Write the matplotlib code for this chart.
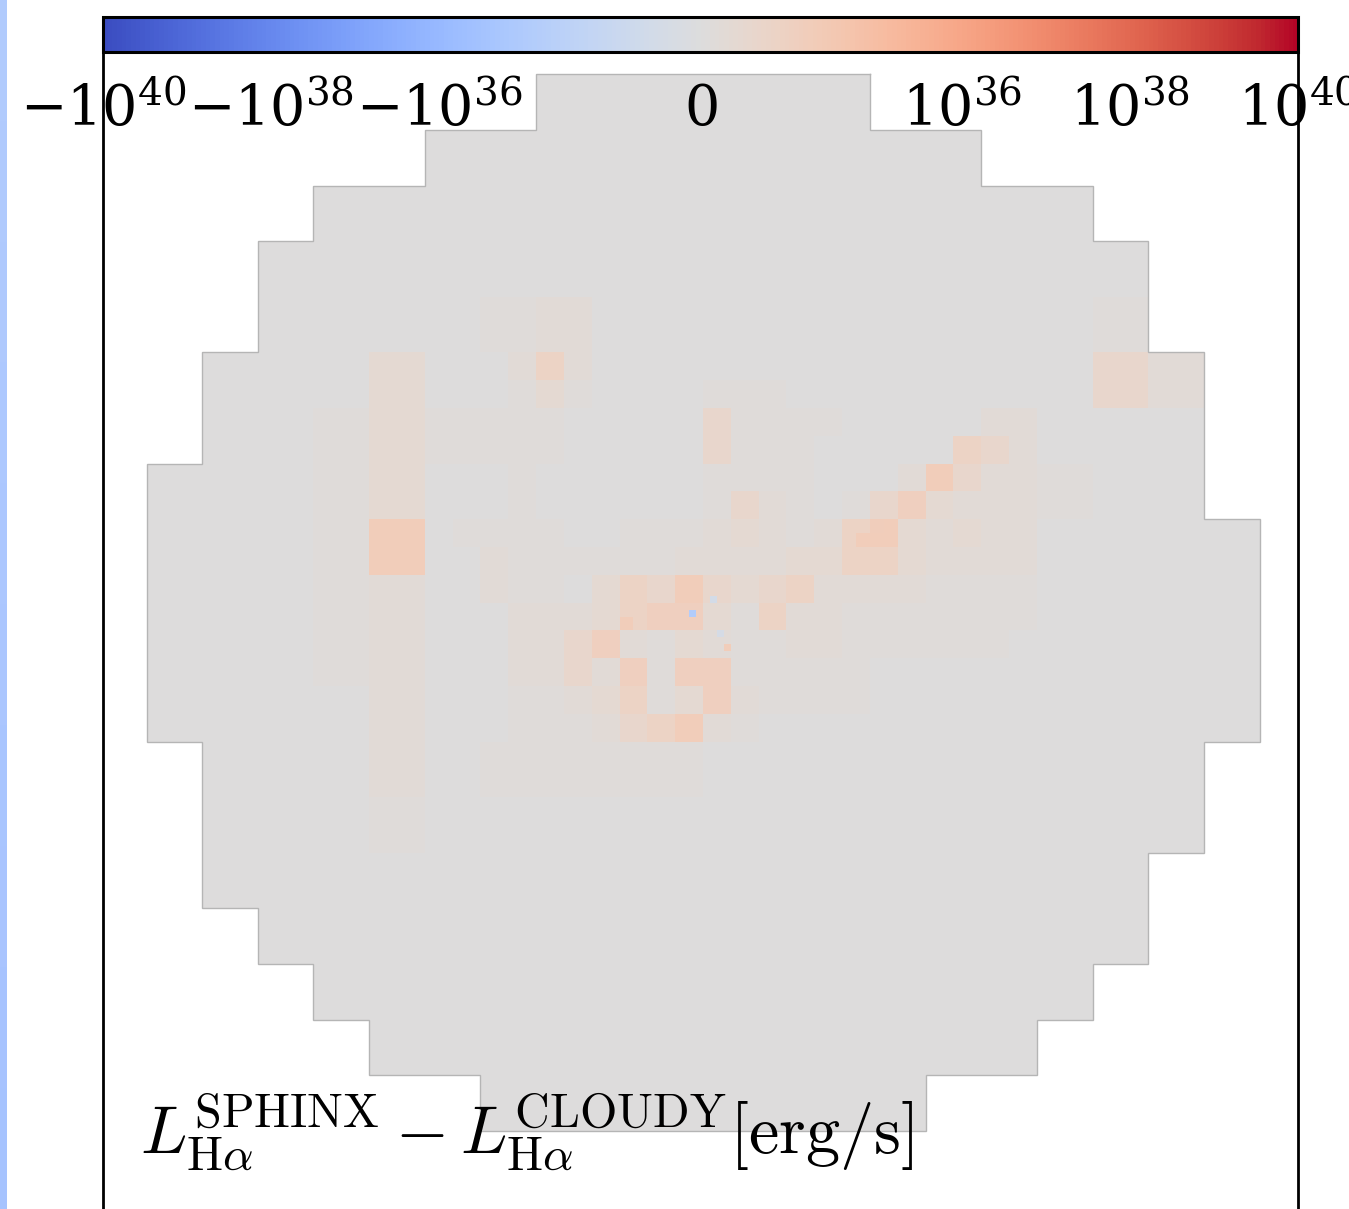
import numpy as np
import matplotlib
matplotlib.use("Agg")
import matplotlib.pyplot as plt
from matplotlib.colors import SymLogNorm

# ---------------- data ----------------
# level code -> L_SPHINX - L_CLOUDY [erg/s]
level_values = [0.0, 1.2e33, 2.4e33, 3.8e33, 5.5e33, 8.0e33, 1.1e34, 1.6e34, 2.4e34, 3.5e34]

# coarse cells: first column inside the sphere for each of the 19 rows,
# followed by one level code per cell
coarse_start = [7, 5, 3, 2, 2, 1, 1, 0, 0, 0, 0, 0, 1, 1, 1, 2, 3, 4, 6]
coarse_vals = [
    "000000",
    "0000000000",
    "00000000000000",
    "0000000000000000",
    "0000120000000001",
    "000301300110000042",
    "001300000000000000",
    "0001300000000000000",
    "00017000000000000000",
    "00012000000000000000",
    "00012000000000000000",
    "00002000000000000000",
    "000200000000000000",
    "000100000000000000",
    "00000000000000000",
    "0000000000000000",
    "00000000000000",
    "000000000000",
    "00000000",
]

# refined half-size cells covering cols 5-19, rows 5-14
half_col0, half_row0 = 5, 5
half_rows = [
    "0002520000000000000000004422",
    "0001310000111000000000004422",
    "1111100000411110000022000000",
    "1111100000411100000542000000",
    "0001000000111100027422110000",
    "0001000000142101463222110000",
    "0111100111232125732322000000",
    "0021111112222335532222000000",
    "0021103547434522221111000000",
    "0002223566315221111111000000",
    "0002246213211221111110000000",
    "0002242616611111000000000000",
    "0001123513621111000000000000",
    "0001112457210000000000000000",
    "0011111111000000000000000000",
    "0011111111000000000000000000",
    "0000000000000000000000000000",
    "0000000000000000000000000000",
]

# finest cells: (col0, row0, size, value [erg/s])
small_cells = [
    (9.750, 9.625, 0.125, -8.0e34),
    (10.125, 9.375, 0.125, -5.0e33),
    (10.250, 10.000, 0.125, -4.0e33),
    (8.500, 9.750, 0.250, 1.6e34),
    (10.375, 10.250, 0.125, 1.6e34),
    (12.750, 8.250, 0.250, 1.6e34),
    (13.000, 8.000, 0.250, 1.4e34),
]

# neighbouring panel sliver at the left edge (top -> bottom)
strip_values = [-2.0e35, -2.3e35, -2.7e35, -3.1e35, -3.5e35, -4.0e35, -4.5e35, -5.0e35, -5.5e35, -6.0e35]

cbar_ticks = [-1e40, -1e38, -1e36, 0, 1e36, 1e38, 1e40]
cbar_ticklabels = [r"$-10^{40}$", r"$-10^{38}$", r"$-10^{36}$", r"$0$",
                   r"$10^{36}$", r"$10^{38}$", r"$10^{40}$"]
label_text = (r"$L_{\mathrm{H}\alpha}^{\mathrm{SPHINX}}-"
              r"L_{\mathrm{H}\alpha}^{\mathrm{CLOUDY}}[\mathrm{erg/s}]$")

# ---------------- figure ----------------
W, H = 1349, 1209
fig = plt.figure(figsize=(W / 100, H / 100), dpi=100)
cmap = plt.get_cmap("coolwarm")
norm = SymLogNorm(linthresh=1e34, linscale=1.0, vmin=-1e40, vmax=1e40, base=10)

ax = fig.add_axes([103 / W, 1 - 1247 / H, 1195 / W, 1195 / H])

# coarse grid
nrow, ncol = len(coarse_vals), 20
coarse = np.full((nrow, ncol), np.nan)
for r, (s, vals) in enumerate(zip(coarse_start, coarse_vals)):
    for k, ch in enumerate(vals):
        coarse[r, s + k] = level_values[int(ch)]
ax.pcolormesh(np.arange(ncol + 1), np.arange(nrow + 1), np.ma.masked_invalid(coarse),
              cmap=cmap, norm=norm, shading="flat", antialiased=False, edgecolors="none")

# half-size grid
half = np.array([[level_values[int(ch)] for ch in row] for row in half_rows])
hx = half_col0 + 0.5 * np.arange(half.shape[1] + 1)
hy = half_row0 + 0.5 * np.arange(half.shape[0] + 1)
ax.pcolormesh(hx, hy, half, cmap=cmap, norm=norm, shading="flat",
              antialiased=False, edgecolors="none")

# finest cells
for c0, r0, s, v in small_cells:
    ax.pcolormesh([c0, c0 + s], [r0, r0 + s], np.array([[v]]), cmap=cmap, norm=norm,
                  shading="flat", antialiased=False, edgecolors="none")

# sphere outline (from the coarse mask)
starts = list(coarse_start)
ends = [s + len(v) for s, v in zip(coarse_start, coarse_vals)]
pts = []
for r in range(nrow):
    pts += [(ends[r], r), (ends[r], r + 1)]
for r in reversed(range(nrow)):
    pts += [(starts[r], r + 1), (starts[r], r)]
pts.append(pts[0])
px, py = zip(*pts)
ax.plot(px, py, color="#b5b5b5", lw=1.0, solid_joinstyle="miter")

ax.set_xlim((103 - 146.5) / 55.65, (1298 - 146.5) / 55.65)
ax.set_ylim((1247 - 74.4) / 55.6, (52 - 74.4) / 55.6)
ax.set_xticks([]); ax.set_yticks([])
for side in ("left", "right"):
    ax.spines[side].set_linewidth(2.0)
    ax.spines[side].set_color("black")
ax.spines["top"].set_visible(False)
ax.spines["bottom"].set_visible(False)

fig.text(140 / W, 1 - 1153 / H, label_text, fontsize=49.3, math_fontfamily="cm",
         ha="left", va="baseline")

# colorbar
cax = fig.add_axes([103 / W, 1 - 52 / H, 1195 / W, 35 / H])
sm = plt.cm.ScalarMappable(norm=norm, cmap=cmap)
cb = fig.colorbar(sm, cax=cax, orientation="horizontal", ticks=cbar_ticks)
cb.outline.set_linewidth(2.2)
cax.minorticks_off()
cax.set_xticks(cbar_ticks)
cax.set_xticklabels(cbar_ticklabels, fontsize=40, math_fontfamily="dejavuserif")
cax.tick_params(axis="x", length=0, pad=22)

# left sliver of the neighbouring panel
sax = fig.add_axes([0, 0, 7 / W, 1])
sax.imshow(np.array(strip_values)[:, None], aspect="auto", cmap=cmap, norm=norm, alpha=0.9)
sax.axis("off")

fig.savefig("out.png", dpi=100)
